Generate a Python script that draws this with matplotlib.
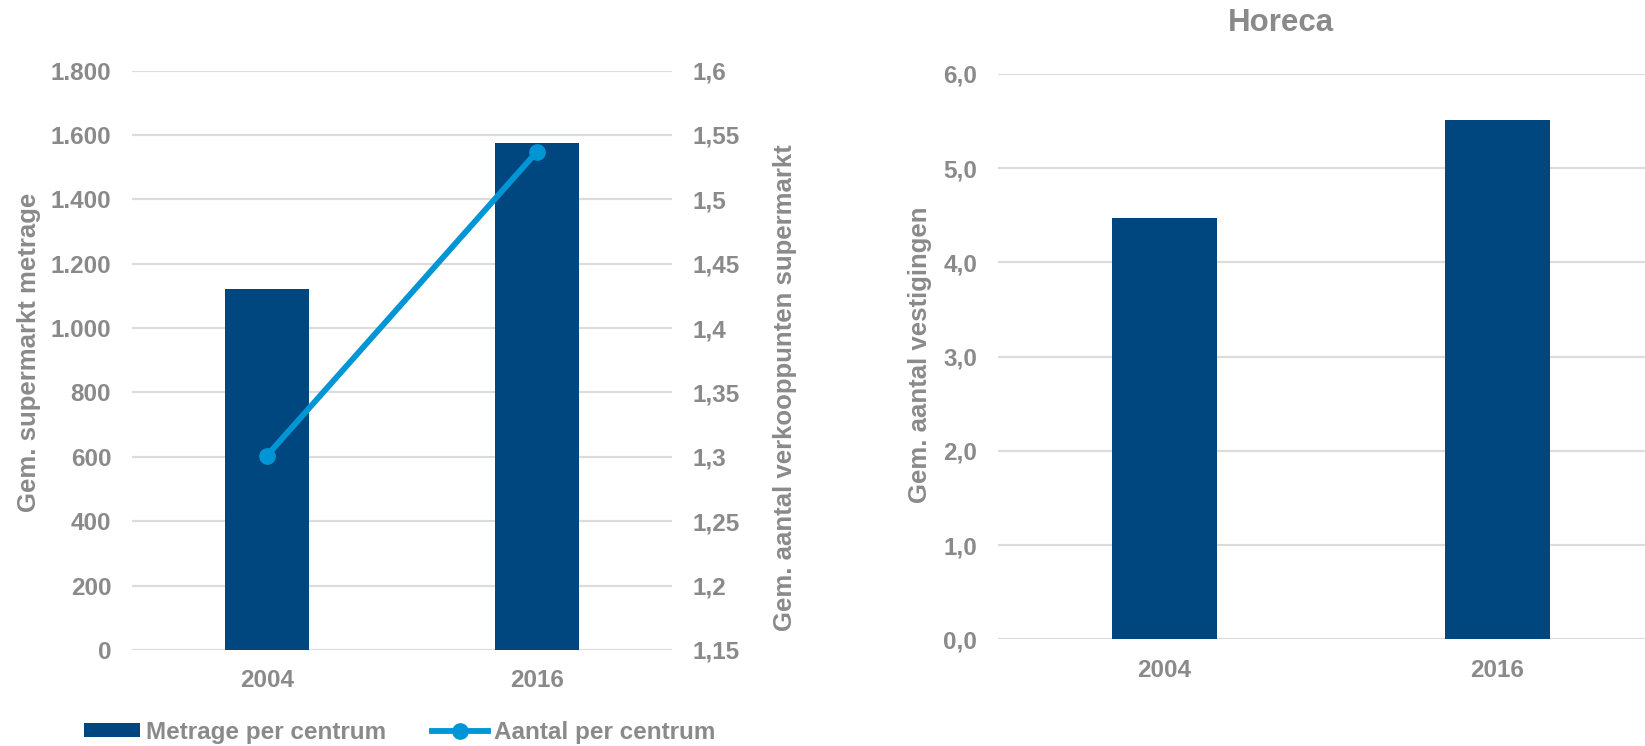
import matplotlib
matplotlib.use('Agg')
import matplotlib.pyplot as plt
from matplotlib.lines import Line2D
from matplotlib.patches import Patch
from matplotlib.ticker import FuncFormatter, MultipleLocator

# supermarket data
years = ['2004', '2016']
metrage = [1121, 1574]
aantal = [1.301, 1.537]

# horeca data
horeca_years = ['2004', '2016']
horeca = [4.47, 5.51]

BAR = '#00467f'
LINE = '#0096d6'
TEXT = '#8a8a8a'
GRID = '#dcdcdc'

plt.rcParams['font.family'] = ['Liberation Sans', 'DejaVu Sans']
plt.rcParams['font.weight'] = 'bold'

W, H = 1645, 746
fig = plt.figure(figsize=(W / 100, H / 100), dpi=100)


def box(x0, x1, ytop, ybot):
    return [x0 / W, 1 - ybot / H, (x1 - x0) / W, (ybot - ytop) / H]


def style(ax):
    for s in ax.spines.values():
        s.set_visible(False)
    ax.tick_params(length=0, labelsize=17.5, labelcolor=TEXT)
    for lab in ax.get_xticklabels() + ax.get_yticklabels():
        lab.set_fontweight('bold')


# left chart: metrage bars + aantal line on a second axis
ax1 = fig.add_axes(box(132, 672, 70.5, 650))
x = range(len(years))
ax1.bar(x, metrage, width=0.31, color=BAR, zorder=2)
ax1.set_xlim(-0.5, 1.5)
ax1.set_ylim(0, 1800)
ax1.yaxis.set_major_locator(MultipleLocator(200))
ax1.yaxis.set_major_formatter(FuncFormatter(lambda v, p: f'{int(v):,}'.replace(',', '.')))
ax1.set_xticks(list(x))
ax1.set_xticklabels(years)
ax1.grid(axis='y', color=GRID, linewidth=1.6, zorder=0)
ax1.set_axisbelow(True)
style(ax1)
ax1.tick_params(axis='y', pad=15)
ax1.tick_params(axis='x', pad=14)

ax2 = ax1.twinx()
ax2.plot(list(x), aantal, color=LINE, linewidth=4.2, marker='o', markersize=11,
         solid_capstyle='round', zorder=3)
ax2.set_ylim(1.15, 1.6)
ax2.yaxis.set_major_locator(MultipleLocator(0.05))
ax2.yaxis.set_major_formatter(FuncFormatter(lambda v, p: f'{v:.2f}'.rstrip('0').replace('.', ',')))
style(ax2)
ax2.tick_params(axis='y', pad=15)

fig.text(29 / W, 1 - 352 / H, 'Gem. supermarkt metrage', rotation=90, ha='center', va='center',
         fontsize=18.5, color=TEXT, fontweight='bold')
fig.text(785 / W, 1 - 388 / H, 'Gem. aantal verkooppunten supermarkt', rotation=90, ha='center',
         va='center', fontsize=18.5, color=TEXT, fontweight='bold')

handles = [Patch(facecolor=BAR, edgecolor='none'),
           Line2D([0], [0], color=LINE, linewidth=4.2, marker='o', markersize=11)]
leg = fig.legend(handles, ['Metrage per centrum', 'Aantal per centrum'], loc='center',
                 bbox_to_anchor=(400 / W, 1 - 732 / H), ncol=2, frameon=False, fontsize=17.5,
                 handlelength=2.3, handleheight=0.5, handletextpad=0.25, columnspacing=1.9,
                 borderpad=0)
for t in leg.get_texts():
    t.set_color(TEXT)
    t.set_fontweight('bold')

# right chart: horeca
ax3 = fig.add_axes(box(998, 1664, 74, 639.3))
hx = range(len(horeca_years))
ax3.bar(hx, horeca, width=0.315, color=BAR, zorder=2)
ax3.set_xlim(-0.5, 1.5)
ax3.set_ylim(0, 6)
ax3.yaxis.set_major_locator(MultipleLocator(1))
ax3.yaxis.set_major_formatter(FuncFormatter(lambda v, p: f'{v:.1f}'.replace('.', ',')))
ax3.set_xticks(list(hx))
ax3.set_xticklabels(horeca_years)
ax3.grid(axis='y', color=GRID, linewidth=1.6, zorder=0)
ax3.set_axisbelow(True)
style(ax3)
ax3.tick_params(axis='y', pad=15)
ax3.tick_params(axis='x', pad=14)

fig.text(920 / W, 1 - 355 / H, 'Gem. aantal vestigingen', rotation=90, ha='center', va='center',
         fontsize=18.5, color=TEXT, fontweight='bold')
fig.text(1281 / W, 1 - 23 / H, 'Horeca', ha='center', va='center', fontsize=22.5,
         color=TEXT, fontweight='bold')

fig.savefig('out.png', dpi=100, facecolor='white')
